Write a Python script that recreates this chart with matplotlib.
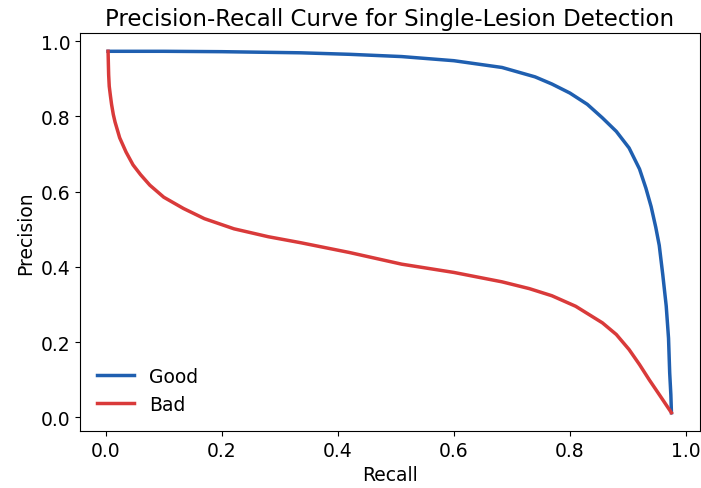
import numpy as np
import matplotlib.pyplot as plt

# values
good_recall = [0.004, 0.1, 0.2, 0.336, 0.42, 0.51, 0.6, 0.683, 0.74, 0.769, 0.8, 0.83,
               0.856, 0.88, 0.902, 0.92, 0.931, 0.94, 0.948, 0.954, 0.96, 0.966,
               0.97, 0.972, 0.974, 0.975]
good_precision = [0.973, 0.973, 0.972, 0.969, 0.965, 0.959, 0.948, 0.930, 0.905, 0.886,
                  0.862, 0.832, 0.796, 0.760, 0.716, 0.660, 0.609, 0.560, 0.505, 0.457,
                  0.380, 0.296, 0.210, 0.118, 0.060, 0.012]

bad_recall = [0.004, 0.0045, 0.005, 0.006, 0.008, 0.010, 0.013, 0.016, 0.024, 0.035,
              0.047, 0.06, 0.076, 0.1, 0.134, 0.17, 0.221, 0.28, 0.336, 0.42, 0.51,
              0.6, 0.683, 0.73, 0.769, 0.81, 0.856, 0.88, 0.902, 0.92, 0.937, 0.955,
              0.975]
bad_precision = [0.973, 0.940, 0.910, 0.880, 0.855, 0.832, 0.805, 0.785, 0.743, 0.705,
                 0.671, 0.645, 0.617, 0.585, 0.555, 0.528, 0.501, 0.480, 0.464, 0.438,
                 0.407, 0.385, 0.360, 0.342, 0.323, 0.295, 0.251, 0.220, 0.180, 0.140,
                 0.099, 0.058, 0.012]

fig = plt.figure(figsize=(7.01, 4.89), dpi=100)
ax = fig.add_axes([0.114, 0.117, 0.884, 0.813])

ax.plot(good_recall, good_precision, color="#1f5fb0", lw=2.5, label="Good")
ax.plot(bad_recall, bad_precision, color="#d93a3a", lw=2.5, label="Bad")

ax.set_title("Precision-Recall Curve for Single-Lesion Detection", fontsize=16.5)
ax.set_xlabel("Recall", fontsize=13.5)
ax.set_ylabel("Precision", fontsize=13.5)
ax.tick_params(labelsize=13.5)
ax.legend(loc="lower left", frameon=False, fontsize=13.5)

fig.savefig("out.png")
